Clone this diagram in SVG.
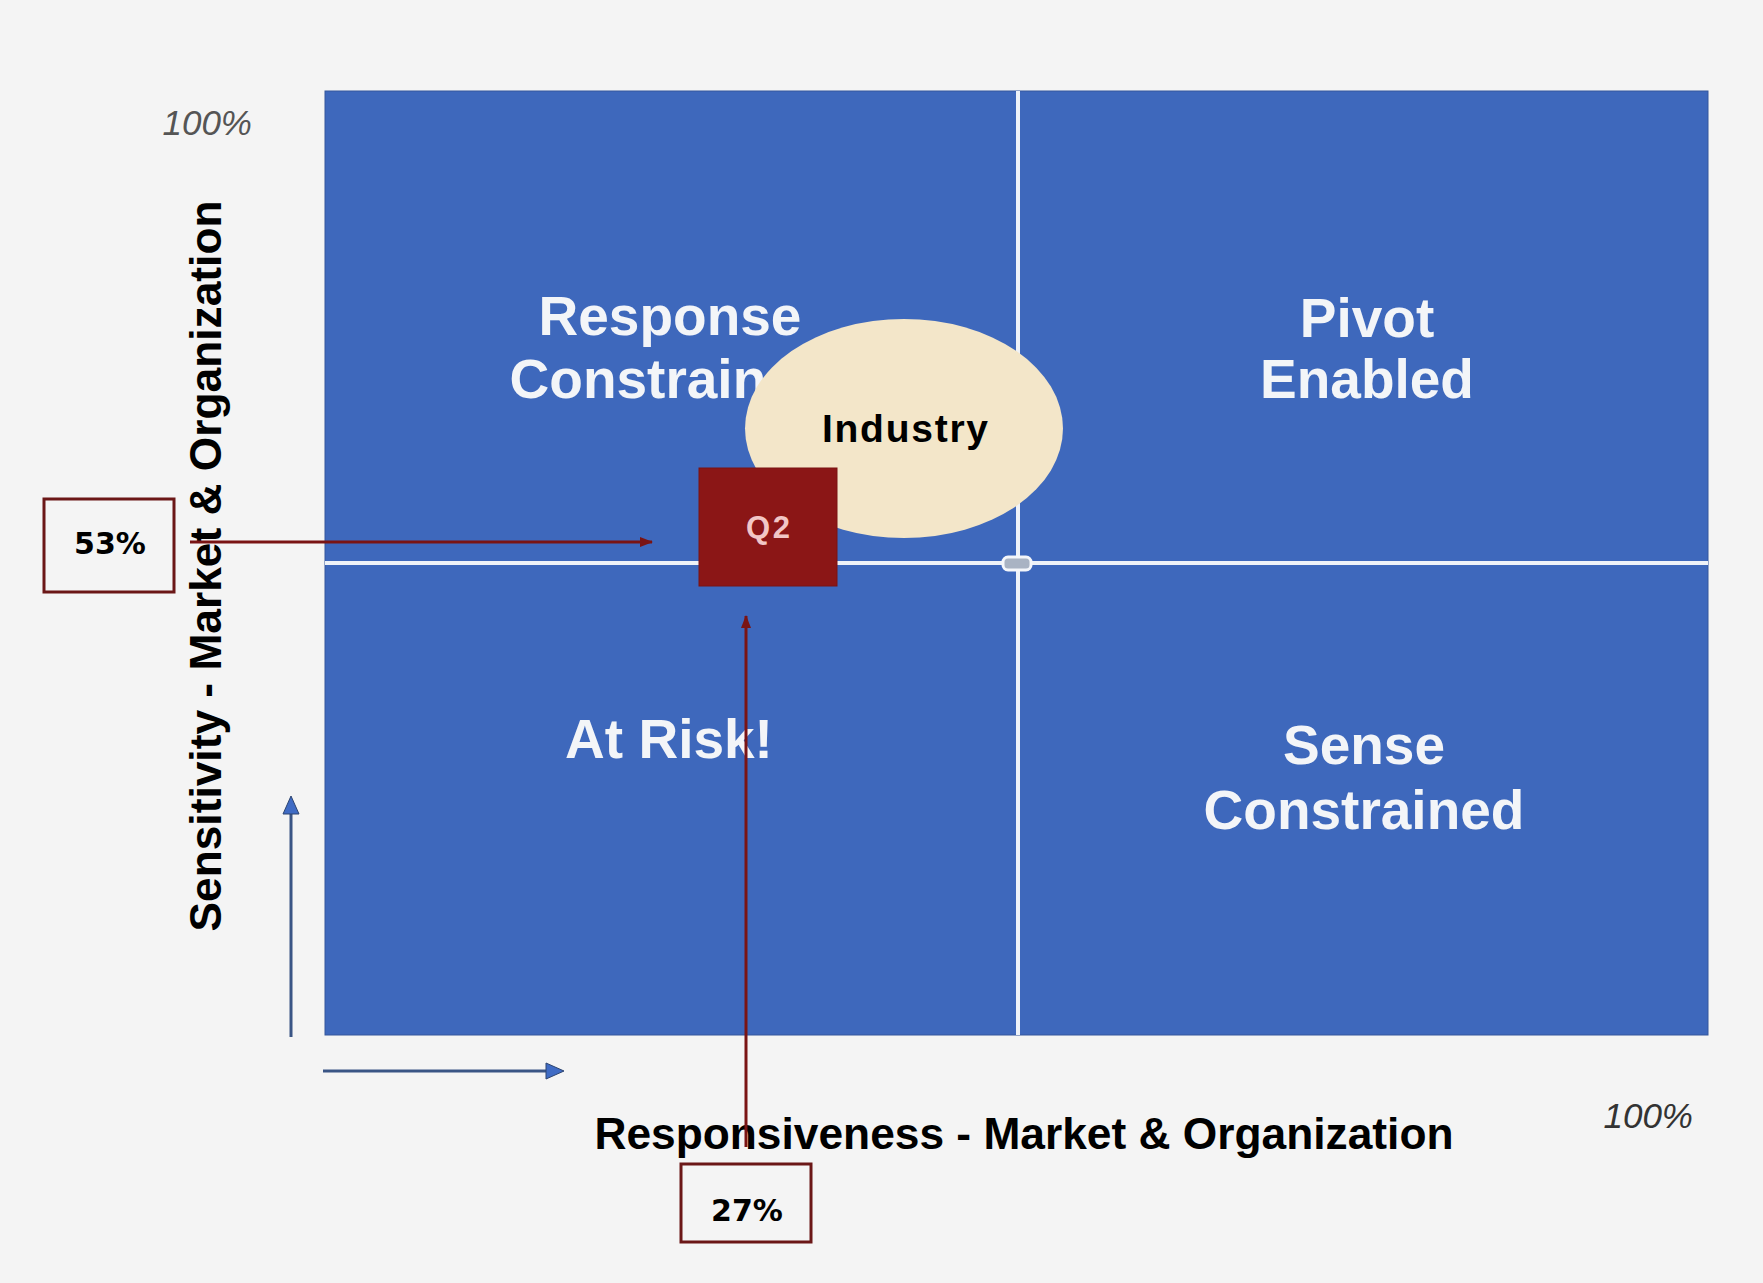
<svg xmlns="http://www.w3.org/2000/svg" width="1763" height="1283" viewBox="0 0 1763 1283">
  <style>
    .quad { fill: #3e68bc; }
    .div { stroke: #eef2f8; stroke-width: 4; }
    .qlabel { font-family: "Liberation Sans", Arial, sans-serif; font-weight: bold; font-size: 55px; fill: #f3f5f8; text-anchor: middle; }
    .axis { font-family: "Liberation Sans", Arial, sans-serif; font-weight: bold; font-size: 44.3px; fill: #000; text-anchor: middle; }
    .pct { font-family: "Liberation Sans", Arial, sans-serif; font-style: italic; font-size: 35px; text-anchor: end; }
    .valbox { fill: none; stroke: #6b1717; stroke-width: 3; }
    .val { font-family: "DejaVu Sans", Verdana, sans-serif; font-weight: bold; font-size: 30px; fill: #000; text-anchor: middle; }
    .red { stroke: #7a1414; stroke-width: 3; fill: none; }
    .blue { stroke: #3a5585; stroke-width: 3; fill: none; }
  </style>
  <defs>
    <marker id="redhead" markerWidth="13" markerHeight="10" refX="12" refY="5" orient="auto" markerUnits="userSpaceOnUse">
      <path d="M0,0 L13,5 L0,10 Z" fill="#7a1414"/>
    </marker>
    <marker id="bluehead" markerWidth="20" markerHeight="18" refX="1" refY="9" orient="auto" markerUnits="userSpaceOnUse">
      <path d="M1,1 L19,9 L1,17 Z" fill="#3f6bc4" stroke="#2c4470" stroke-width="1"/>
    </marker>
  </defs>

  <rect width="1763" height="1283" fill="#f4f4f4"/>

  <g id="matrix">
    <rect class="quad" x="325" y="91" width="1383" height="944" stroke="#34579c" stroke-width="1"/>
    <line class="div" x1="1018" y1="91" x2="1018" y2="1035"/>
    <line class="div" x1="325" y1="563" x2="1708" y2="563"/>
    <rect x="1003" y="557" width="28" height="13" rx="5" fill="#a9b3c3" stroke="#f4f6fa" stroke-width="3"/>
  </g>

  <g id="quadrant-response-constrained">
    <text class="qlabel" x="670" y="335">Response</text>
    <text class="qlabel" x="670" y="398">Constrained</text>
  </g>
  <g id="quadrant-pivot-enabled">
    <text class="qlabel" x="1367" y="337">Pivot</text>
    <text class="qlabel" x="1367" y="398">Enabled</text>
  </g>
  <g id="quadrant-at-risk">
    <text class="qlabel" x="669" y="758">At Risk!</text>
  </g>
  <g id="quadrant-sense-constrained">
    <text class="qlabel" x="1364" y="764">Sense</text>
    <text class="qlabel" x="1364" y="829">Constrained</text>
  </g>

  <g id="industry">
    <ellipse cx="904" cy="428.5" rx="159" ry="109.5" fill="#f3e6c9"/>
    <text x="905" y="442" font-family="Liberation Sans, Arial, sans-serif" font-weight="bold" font-size="39" text-anchor="middle" fill="#000" textLength="166" lengthAdjust="spacing">Industry</text>
  </g>

  <g id="q2">
    <rect x="699" y="468" width="138" height="118" fill="#8b1616" stroke="#7a1212" stroke-width="1"/>
    <text x="768" y="538" font-family="Liberation Sans, Arial, sans-serif" font-weight="bold" font-size="31" text-anchor="middle" fill="#f2c6c6" textLength="44" lengthAdjust="spacing">Q2</text>
  </g>

  <g id="axis-labels">
    <text class="axis" x="1024" y="1149">Responsiveness - Market &amp; Organization</text>
    <text class="axis" transform="translate(221,566) rotate(-90)" x="0" y="0">Sensitivity - Market &amp; Organization</text>
    <text class="pct" x="252" y="135" fill="#555">100%</text>
    <text class="pct" x="1693" y="1128" fill="#333">100%</text>
  </g>

  <g id="value-53">
    <rect class="valbox" x="44" y="499" width="130" height="93"/>
    <text class="val" x="110" y="554">53%</text>
  </g>
  <g id="value-27">
    <rect class="valbox" x="681" y="1164" width="130" height="78"/>
    <text class="val" x="747" y="1221">27%</text>
  </g>

  <g id="connectors">
    <line class="blue" x1="291" y1="1037" x2="291" y2="814" marker-end="url(#bluehead)"/>
    <line class="blue" x1="323" y1="1071" x2="546" y2="1071" marker-end="url(#bluehead)"/>
    <line class="red" x1="190" y1="542" x2="652" y2="542" marker-end="url(#redhead)"/>
    <line class="red" x1="746" y1="1147" x2="746" y2="616" marker-end="url(#redhead)"/>
  </g>
</svg>
